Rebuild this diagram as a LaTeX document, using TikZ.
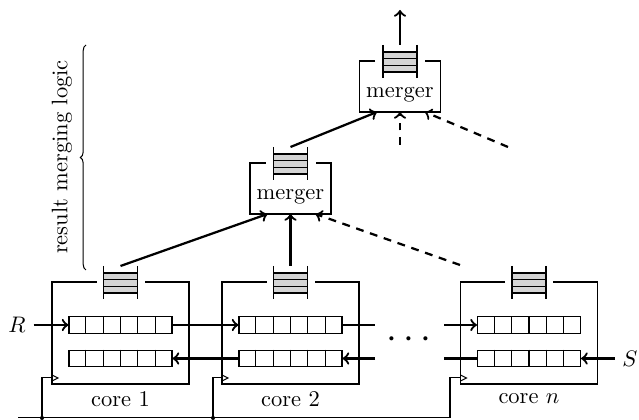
\documentclass[tikz,border=0pt]{standalone}
\usetikzlibrary{calc,decorations.pathreplacing}
\tikzset{
  frame/.style={line width=0.6pt},
  arr/.style={line width=1pt,->},
  conn/.style={line width=1pt},
  dasharr/.style={line width=1pt,->,dash pattern=on 3.5pt off 3pt},
  clk/.style={line width=0.45pt},
  queue/.style={draw,line width=0.5pt,minimum width=45.8pt,minimum height=7.35pt,inner sep=0pt,fill=white},
  cell/.style={line width=0.5pt},
  fifobar/.style={fill=black!17},
}
\newcommand\fifoat[2]{%
  \fill[fifobar] ({#1-17},{#2-9}) rectangle ({#1+17},{#2+11});
  \foreach \yy in {-9,-2.3,4.3,11} \draw[cell] ({#1-17},{#2+\yy}) -- ({#1+17},{#2+\yy});
  \draw[frame] ({#1-17},{#2-16}) -- ({#1-17},{#2+17});
  \draw[frame] ({#1+17},{#2-16}) -- ({#1+17},{#2+17});
}
\newcommand\drawcore[3]{%
  \draw[frame] ({#1-24},282) -| ({#1-68.5},384) -| ({#1+68.5},282) -- ({#1+24},282);
  \fifoat{#1}{282}
  \node[queue] (#2u) at (#1,325) {};
  \node[queue] (#2l) at (#1,358.5) {};
  \foreach \i in {1,...,5} {
    \draw[cell] ($(#2u.north west)!\i/6!(#2u.north east)$) -- ($(#2u.south west)!\i/6!(#2u.south east)$);
    \draw[cell] ($(#2l.north west)!\i/6!(#2l.north east)$) -- ($(#2l.south west)!\i/6!(#2l.south east)$);
  }
  \node (#2lab) at (#1,399) {#3};
  \coordinate (#2f) at (#1,266);
  \coordinate (#2clk) at ({#1-68.5},378);
  \draw[clk] ({#1-68.5},375) -- ({#1-62.5},378) -- ({#1-68.5},381);
}
\newcommand\drawmerger[3]{%
  \draw[frame] ({#1-25},#2) -| ({#1-40.5},{#2+51}) -| ({#1+40.5},#2) -- ({#1+25},#2);
  \fifoat{#1}{#2}
  \node (#3) at (#1,{#2+34}) {merger};
  \coordinate (#3L) at ({#1-23},{#2+51});
  \coordinate (#3C) at (#1,{#2+51});
  \coordinate (#3R) at ({#1+25},{#2+51});
  \coordinate (#3F) at (#1,{#2-16});
}
\begin{document}
\begin{tikzpicture}[x=0.445pt,y=-0.445pt]
\useasboundingbox (0,0) rectangle (639,420);

\drawcore{120.5}{c1}{core 1}
\drawcore{290.5}{c2}{core 2}
\drawcore{529}{cn}{core $n$}
\drawmerger{290.5}{163}{m1}
\drawmerger{400}{61}{m2}

% free ends
\coordinate (e2u) at (375,325);
\coordinate (e2l) at (375,358.5);
\coordinate (snu) at (444,325);
\coordinate (snl) at (444,358.5);
\coordinate (dn1) at (460,265);
\coordinate (d2c) at (400,145);
\coordinate (d2r) at (508,147);
\coordinate (out) at (400,10);

% inputs
\node (R) at (17,325) {$R$};
\node (S) at (630,358.5) {$S$};
\draw[arr] (R) -- (c1u);
\draw[arr] (c1u) -- (c2u);
\draw[arr] (c2l) -- (c1l);
\draw[conn] (c2u) -- (e2u);
\draw[arr] (e2l) -- (c2l);
\draw[arr] (snu) -- (cnu);
\draw[conn] (cnl) -- (snl);
\draw[arr] (S) -- (cnl);
\node (dots) at (409,340) {\LARGE$\cdots$};

% merging tree
\draw[arr] (c1f) -- (m1L);
\draw[arr] (c2f) -- (m1C);
\draw[dasharr] (dn1) -- (m1R);
\draw[arr] (m1F) -- (m2L);
\draw[dasharr] (d2c) -- (m2C);
\draw[dasharr] (d2r) -- (m2R);
\draw[arr] (m2F) -- (out);

% clock bus
\coordinate (busL) at (18,418);
\coordinate (b1) at (42,418);
\coordinate (b2) at (213,418);
\coordinate (bn) at (450,418);
\draw[clk] (busL) -- (bn) |- (cnclk);
\draw[clk] (b1) |- (c1clk);
\draw[clk] (b2) |- (c2clk);
\fill (b1) circle (0.9pt);
\fill (b2) circle (0.9pt);

% brace
\coordinate (brB) at (86,270);
\coordinate (brT) at (86,45);
\draw[clk,decorate,decoration={brace,amplitude=2.5pt}] (brB) -- (brT);
\node[rotate=90] (lbl) at (62,157) {result merging logic};
\end{tikzpicture}
\end{document}
